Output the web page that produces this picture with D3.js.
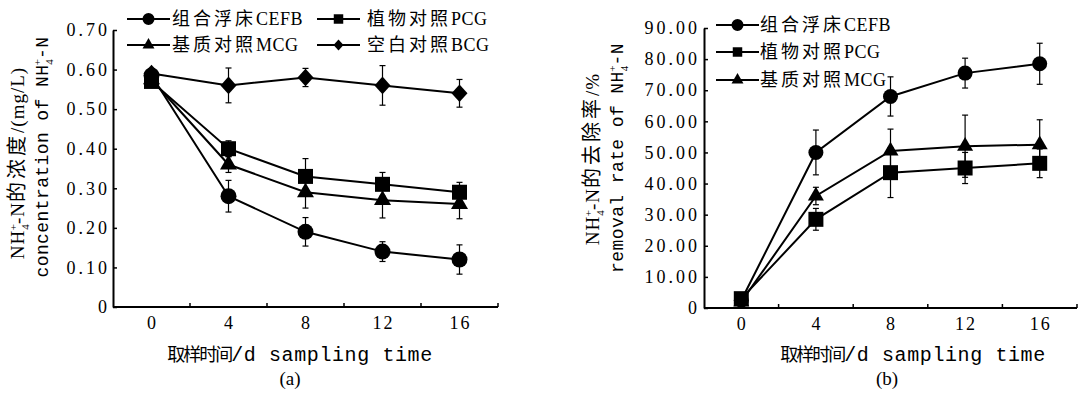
<!DOCTYPE html>
<meta charset="utf-8">
<head>
  <title>NH4+-N concentration and removal rate</title>
  <style>
    body { margin: 0; background: #fff; }
    text { font-family: "Liberation Serif", "Noto Sans CJK SC", serif; fill: #000; }
    .line { fill: none; stroke: #000; stroke-width: 2px; }
    .err { stroke: #000; stroke-width: 1.2px; }
  </style>
</head>
<body>
  <svg width="1078" height="399"></svg>
  <script src="https://d3js.org/d3.v7.min.js"></script>
  <script>
    // sampling days
    var days = ["0", "4", "8", "12", "16"];
    var names = ["组合浮床CEFB", "植物对照PCG", "基质对照MCG", "空白对照BCG"];

    // (a) NH4+-N concentration, mg/L
    var concCEFB = [0.585, 0.28, 0.19, 0.14, 0.12];
    var concPCG  = [0.57, 0.40, 0.33, 0.31, 0.29];
    var concMCG  = [0.575, 0.36, 0.29, 0.27, 0.26];
    var concBCG  = [0.59, 0.56, 0.58, 0.56, 0.54];
    var concErrCEFB = [0.01, 0.04, 0.036, 0.025, 0.037];
    var concErrPCG  = [0.01, 0.02, 0.045, 0.03, 0.025];
    var concErrMCG  = [0.01, 0.02, 0.04, 0.045, 0.037];
    var concErrBCG  = [0.01, 0.044, 0.023, 0.05, 0.035];
    var concTicks = [0, 0.1, 0.2, 0.3, 0.4, 0.5, 0.6, 0.7];

    // (b) NH4+-N removal rate, %
    var remCEFB = [2.5, 50, 68, 75.5, 78.5];
    var remPCG  = [3, 28.5, 43.5, 45, 46.5];
    var remMCG  = [2, 36, 50.5, 52, 52.5];
    var remErrCEFB = [1.5, 7.2, 6.3, 4.8, 6.6];
    var remErrPCG  = [1.5, 3.5, 8, 5, 4.6];
    var remErrMCG  = [1.5, 2.8, 7, 10, 8];
    var remTicks = [0, 10, 20, 30, 40, 50, 60, 70, 80, 90];

    var svg = d3.select("svg");
    var MONO = "Liberation Mono", SERIF = "Liberation Serif";

    var diamond = {
      draw: function(ctx, size) {
        var r = Math.sqrt(size / 2);
        ctx.moveTo(0, -r * 1.1); ctx.lineTo(r, 0); ctx.lineTo(0, r * 1.1); ctx.lineTo(-r, 0); ctx.closePath();
      }
    };
    var shapes = [d3.symbolCircle, d3.symbolSquare, d3.symbolTriangle, diamond];

    // split a string into CJK / latin runs with their own font, size and spacing
    function rich(t, str, st) {
      var re = /([\u3000-\u9fff\uff00-\uffef]+)|([^\u3000-\u9fff\uff00-\uffef]+)/g, m;
      while ((m = re.exec(str))) {
        var cjk = !!m[1];
        t.append("tspan").text(m[0])
          .attr("font-family", cjk ? "Noto Sans CJK SC" : st.lf)
          .attr("font-size", cjk ? st.cs : st.ls)
          .attr("letter-spacing", cjk ? st.cl : st.ll);
      }
    }

    // NH4+ with stacked sub/sup
    function nh4(t, st) {
      t.append("tspan").attr("font-family", st.lf).attr("font-size", st.ls).attr("letter-spacing", st.ll).text("NH");
      t.append("tspan").attr("font-size", 11).attr("letter-spacing", 0).attr("dy", 5).text("4");
      t.append("tspan").attr("font-size", 11).attr("letter-spacing", 0).attr("dx", -6).attr("dy", -12).text("+");
      t.append("tspan").attr("font-family", st.lf).attr("font-size", st.ls).attr("letter-spacing", st.ll).attr("dy", 7).text("-N");
    }

    var legendStyle = { lf: SERIF, cs: 18, cl: 3, ls: 18, ll: 0.5 };
    var xTitleStyle = { lf: MONO, cs: 18, cl: -2, ls: 20, ll: 0.6 };
    var yTitle1Style = { lf: SERIF, cs: 20, cl: 3, ls: 19, ll: 1 };
    var yTitle2Style = { lf: MONO, cs: 18, cl: 0, ls: 18, ll: 0.4 };

    function panel(o) {
      var g = svg.append("g");
      var x = d3.scaleBand().domain(days).range(o.xr).paddingInner(0).paddingOuter(0);
      var y = d3.scaleLinear().domain([0, o.ymax]).range(o.yr);
      var cx = function(d) { return x(d) + x.bandwidth() / 2; };

      // y axis
      var ya = g.append("g").attr("transform", "translate(" + o.xr[0] + ",0)")
        .call(d3.axisLeft(y).tickValues(o.ticks).tickSizeInner(-4).tickSizeOuter(0)
          .tickPadding(o.ypad).tickFormat(function(d) { return d === 0 ? "0" : d3.format(o.fmt)(d); }));
      ya.attr("font-family", null).attr("font-size", null);
      ya.select(".domain").attr("stroke-width", 2);
      ya.selectAll(".tick line").attr("stroke-width", 1.5);
      ya.selectAll("text").attr("font-size", 18).attr("letter-spacing", 3);

      // x axis: labels at centres, ticks between categories
      var xa = g.append("g").attr("transform", "translate(0," + o.yr[0] + ")")
        .call(d3.axisBottom(x).tickSize(0).tickPadding(9));
      xa.attr("font-family", null).attr("font-size", null);
      xa.select(".domain").remove();
      xa.selectAll("text").attr("font-size", 18).attr("letter-spacing", 2).attr("dx", 1);
      g.append("line").attr("x1", o.xr[0]).attr("x2", o.xr[1]).attr("y1", o.yr[0]).attr("y2", o.yr[0])
        .attr("stroke", "#000").attr("stroke-width", 2);
      g.selectAll(".xt").data(days).enter().append("line")
        .attr("x1", function(d) { return x(d) + x.bandwidth(); })
        .attr("x2", function(d) { return x(d) + x.bandwidth(); })
        .attr("y1", o.yr[0]).attr("y2", o.yr[0] - 4)
        .attr("stroke", "#000").attr("stroke-width", 1.5);

      var line = d3.line().x(function(d, i) { return cx(days[i]); }).y(function(d) { return y(d); });

      o.series.forEach(function(s) {
        g.append("path").attr("class", "line").attr("d", line(s.v));
      });
      o.series.forEach(function(s) {
        s.v.forEach(function(v, i) {
          var px = cx(days[i]), lo = y(v - s.e[i]), hi = y(v + s.e[i]);
          g.append("line").attr("class", "err").attr("x1", px).attr("x2", px).attr("y1", lo).attr("y2", hi);
          g.append("line").attr("class", "err").attr("x1", px - 3).attr("x2", px + 3).attr("y1", lo).attr("y2", lo);
          g.append("line").attr("class", "err").attr("x1", px - 3).attr("x2", px + 3).attr("y1", hi).attr("y2", hi);
        });
      });
      o.series.forEach(function(s) {
        g.selectAll(null).data(s.v).enter().append("path")
          .attr("transform", function(d, i) { return "translate(" + cx(days[i]) + "," + y(d) + ")"; })
          .attr("d", d3.symbol().type(shapes[s.k]).size(o.msize[s.k]));
      });

      // legend
      o.legend.forEach(function(l) {
        var s = o.series[l.i];
        g.append("line").attr("x1", l.x).attr("x2", l.x + 43).attr("y1", l.y).attr("y2", l.y)
          .attr("stroke", "#000").attr("stroke-width", 2);
        g.append("path").attr("transform", "translate(" + (l.x + 21.5) + "," + l.y + ")")
          .attr("d", d3.symbol().type(shapes[s.k]).size(o.lsize[s.k]));
        var t = g.append("text").attr("x", l.x + l.gap).attr("y", l.y).attr("dy", "0.35em").attr("font-size", 18);
        rich(t, names[s.k], legendStyle);
      });

      // axis titles
      var t1 = g.append("text").attr("font-size", 18).attr("text-anchor", "middle")
        .attr("transform", "translate(" + o.t1[0] + "," + o.t1[1] + ") rotate(-90)").attr("dy", "0.35em");
      nh4(t1, yTitle1Style);
      rich(t1, o.title1, yTitle1Style);
      var t2 = g.append("text").attr("font-size", 18).attr("text-anchor", "middle")
        .attr("transform", "translate(" + o.t2[0] + "," + o.t2[1] + ") rotate(-90)").attr("dy", "0.35em");
      rich(t2, o.title2, yTitle2Style);
      nh4(t2, yTitle2Style);

      var xt = g.append("text").attr("x", o.xt[0]).attr("y", o.xt[1]).attr("dy", "0.35em")
        .attr("text-anchor", "middle").attr("font-size", 18);
      rich(xt, "取样时间/d sampling time", xTitleStyle);
      g.append("text").attr("x", o.lab[0]).attr("y", o.lab[1]).attr("dy", "0.35em").attr("text-anchor", "middle")
        .attr("font-size", 19).text(o.label);
    }

    panel({
      xr: [113, 498], yr: [307, 30], ymax: 0.7, ticks: concTicks, fmt: ".2f", ypad: 3,
      series: [
        { k: 3, v: concBCG, e: concErrBCG },
        { k: 1, v: concPCG, e: concErrPCG },
        { k: 2, v: concMCG, e: concErrMCG },
        { k: 0, v: concCEFB, e: concErrCEFB }
      ],
      msize: [200, 225, 125, 128], lsize: [113, 90, 62, 50],
      legend: [
        { i: 3, x: 127, y: 19, gap: 45 },
        { i: 1, x: 317, y: 19, gap: 50 },
        { i: 2, x: 127, y: 45, gap: 45 },
        { i: 0, x: 317, y: 45, gap: 50 }
      ],
      t1: [18, 163], t2: [42, 157], title1: "的浓度/(mg/L)", title2: "concentration of ",
      xt: [300, 355], lab: [290, 378], label: "(a)"
    });

    panel({
      xr: [704, 1077], yr: [308, 28], ymax: 90, ticks: remTicks, fmt: ".2f", ypad: 4,
      series: [
        { k: 1, v: remPCG, e: remErrPCG },
        { k: 2, v: remMCG, e: remErrMCG },
        { k: 0, v: remCEFB, e: remErrCEFB }
      ],
      msize: [177, 225, 111, 128], lsize: [113, 90, 62, 50],
      legend: [
        { i: 2, x: 716, y: 25, gap: 44 },
        { i: 0, x: 716, y: 52, gap: 44 },
        { i: 1, x: 716, y: 80, gap: 44 }
      ],
      t1: [593, 159], t2: [617, 158], title1: "的去除率/%", title2: "removal rate of ",
      xt: [913, 355], lab: [887, 378], label: "(b)"
    });
  </script>
</body>
</html>
